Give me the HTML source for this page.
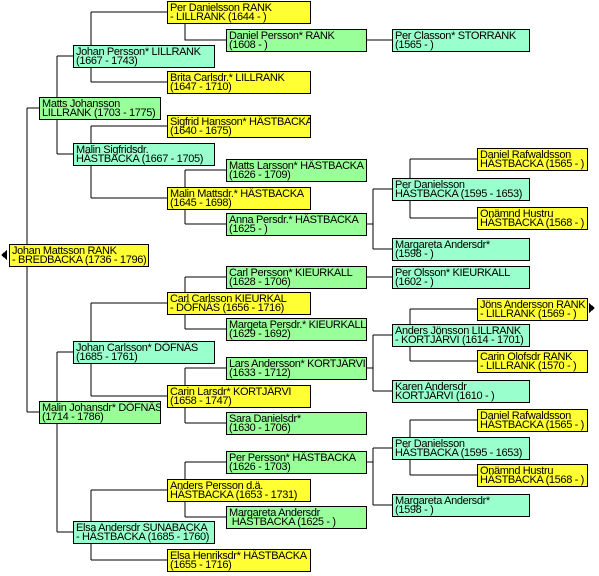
<!DOCTYPE html>
<html><head><meta charset="utf-8"><style>
html,body{margin:0;padding:0;background:#fff;}
body{width:599px;height:576px;position:relative;overflow:hidden;font-family:"Liberation Sans",sans-serif;}
.b{position:absolute;box-sizing:border-box;border:1px solid #000;font-size:11px;letter-spacing:-0.35px;line-height:9px;padding:2px 0 0 2px;white-space:nowrap;color:#000;height:23px;overflow:hidden;}
.y{background:#ffff33;}
.g{background:#99ff99;}
.m{background:#99ffcc;}
svg{position:absolute;left:0;top:0;}
</style></head><body>
<svg width="599" height="576" stroke="#000" stroke-width="1" fill="none" shape-rendering="crispEdges">
<path d="M27 108V412M27 108H39M27 412H39"/>
<path d="M57 56V154M57 56H73M57 154H73"/>
<path d="M57 352V532M57 352H73M57 532H73"/>
<path d="M91 12V82M91 12H167M91 82H167"/>
<path d="M91 126V198M91 126H167M91 198H167"/>
<path d="M91 303V396M91 303H167M91 396H167"/>
<path d="M91 490V560M91 490H167M91 560H167"/>
<path d="M185 24V40H226"/>
<path d="M185 170V224M185 170H226M185 224H226"/>
<path d="M185 277V329M185 277H226M185 329H226"/>
<path d="M185 368V423M185 368H226M185 423H226"/>
<path d="M185 462V517M185 462H226M185 517H226"/>
<path d="M366 40H392M366 277H392"/>
<path d="M366 224H373M373 189V249M373 189H392M373 249H392"/>
<path d="M366 368H373M373 335V391M373 335H392M373 391H392"/>
<path d="M366 462H373M373 448V505M373 448H392M373 505H392"/>
<path d="M410 159V218M410 159H477M410 218H477"/>
<path d="M410 309V361M410 309H477M410 361H477"/>
<path d="M410 420V475M410 420H477M410 475H477"/>
<path d="M1 255L7 250V260Z" fill="#000" stroke="none"/>
<path d="M595 308L589 303V313Z" fill="#000" stroke="none"/>
</svg>

<div class="b y" style="left:9px;top:244px;width:140px;">Johan Mattsson RANK<br>- BREDBACKA (1736 - 1796)</div>

<div class="b g" style="left:39px;top:97px;width:122px;">Matts Johansson<br>LILLRANK (1703 - 1775)</div>
<div class="b g" style="left:39px;top:401px;width:122px;">Malin Johansdr* DÖFNÄS<br>(1714 - 1786)</div>

<div class="b m" style="left:73px;top:45px;width:142px;">Johan Persson* LILLRANK<br>(1667 - 1743)</div>
<div class="b m" style="left:73px;top:143px;width:142px;">Malin Sigfridsdr.<br>HÄSTBACKA (1667 - 1705)</div>
<div class="b m" style="left:73px;top:341px;width:142px;">Johan Carlsson* DÖFNÄS<br>(1685 - 1761)</div>
<div class="b m" style="left:73px;top:521px;width:142px;">Elsa Andersdr SUNABACKA<br>- HÄSTBACKA (1685 - 1760)</div>

<div class="b y" style="left:167px;top:1px;width:144px;">Per Danielsson RANK<br>- LILLRANK (1644 - )</div>
<div class="b y" style="left:167px;top:71px;width:144px;">Brita Carlsdr.* LILLRANK<br>(1647 - 1710)</div>
<div class="b y" style="left:167px;top:115px;width:144px;">Sigfrid Hansson* HÄSTBACKA<br>(1640 - 1675)</div>
<div class="b y" style="left:167px;top:187px;width:144px;">Malin Mattsdr.* HÄSTBACKA<br>(1645 - 1698)</div>
<div class="b y" style="left:167px;top:292px;width:144px;">Carl Carlsson KIEURKAL<br>- DÖFNÄS (1656 - 1716)</div>
<div class="b y" style="left:167px;top:385px;width:144px;">Carin Larsdr* KORTJÄRVI<br>(1658 - 1747)</div>
<div class="b y" style="left:167px;top:479px;width:144px;">Anders Persson d.ä.<br>HÄSTBACKA (1653 - 1731)</div>
<div class="b y" style="left:167px;top:549px;width:144px;">Elsa Henriksdr* HÄSTBACKA<br>(1655 - 1716)</div>

<div class="b g" style="left:226px;top:29px;width:141px;">Daniel Persson* RANK<br>(1608 - )</div>
<div class="b g" style="left:226px;top:159px;width:141px;">Matts Larsson* HÄSTBACKA<br>(1626 - 1709)</div>
<div class="b g" style="left:226px;top:213px;width:141px;">Anna Persdr.* HÄSTBACKA<br>(1625 - )</div>
<div class="b g" style="left:226px;top:266px;width:141px;">Carl Persson* KIEURKALL<br>(1628 - 1706)</div>
<div class="b g" style="left:226px;top:318px;width:141px;">Margeta Persdr.* KIEURKALL<br>(1629 - 1692)</div>
<div class="b g" style="left:226px;top:357px;width:141px;">Lars Andersson* KORTJÄRVI<br>(1633 - 1712)</div>
<div class="b g" style="left:226px;top:412px;width:141px;">Sara Danielsdr*<br>(1630 - 1706)</div>
<div class="b g" style="left:226px;top:451px;width:141px;">Per Persson* HÄSTBACKA<br>(1626 - 1703)</div>
<div class="b g" style="left:226px;top:506px;width:141px;">Margareta Andersdr<br>&nbsp;HÄSTBACKA (1625 - )</div>

<div class="b m" style="left:392px;top:29px;width:138px;">Per Classon* STORRANK<br>(1565 - )</div>
<div class="b m" style="left:392px;top:178px;width:138px;">Per Danielsson<br>HÄSTBACKA (1595 - 1653)</div>
<div class="b m" style="left:392px;top:238px;width:138px;">Margareta Andersdr*<br>(1598 - )</div>
<div class="b m" style="left:392px;top:266px;width:138px;">Per Olsson* KIEURKALL<br>(1602 - )</div>
<div class="b m" style="left:392px;top:324px;width:138px;">Anders Jönsson LILLRANK<br>- KORTJÄRVI (1614 - 1701)</div>
<div class="b m" style="left:392px;top:380px;width:138px;">Karen Andersdr<br>KORTJÄRVI (1610 - )</div>
<div class="b m" style="left:392px;top:437px;width:138px;">Per Danielsson<br>HÄSTBACKA (1595 - 1653)</div>
<div class="b m" style="left:392px;top:494px;width:138px;">Margareta Andersdr*<br>(1598 - )</div>

<div class="b y" style="left:477px;top:148px;width:111px;">Daniel Rafwaldsson<br>HÄSTBACKA (1565 - )</div>
<div class="b y" style="left:477px;top:207px;width:111px;">Onämnd Hustru<br>HÄSTBACKA (1568 - )</div>
<div class="b y" style="left:477px;top:298px;width:111px;">Jöns Andersson RANK<br>- LILLRANK (1569 - )</div>
<div class="b y" style="left:477px;top:350px;width:111px;">Carin Olofsdr RANK<br>- LILLRANK (1570 - )</div>
<div class="b y" style="left:477px;top:409px;width:111px;">Daniel Rafwaldsson<br>HÄSTBACKA (1565 - )</div>
<div class="b y" style="left:477px;top:464px;width:111px;">Onämnd Hustru<br>HÄSTBACKA (1568 - )</div>
</body></html>
